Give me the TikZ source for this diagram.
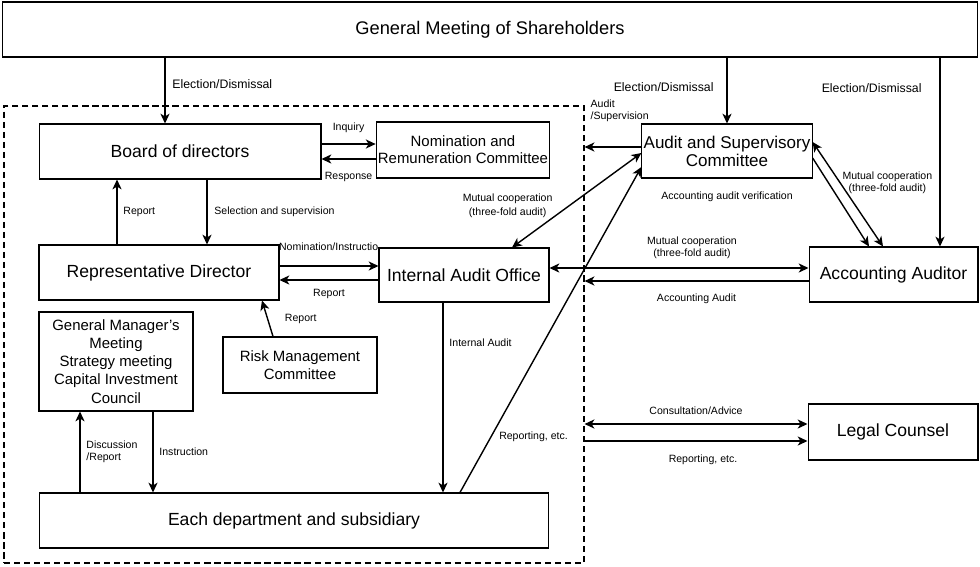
\documentclass[tikz,border=0pt]{standalone}
\usepackage{fontspec}
\setmainfont{Liberation Sans}
\usetikzlibrary{arrows,arrows.meta,positioning}
\tikzset{%
	box/.style       = {draw, rectangle, line width=0.6pt, fill=white, inner sep=1pt, align=center, font=\fontsize{10}{12}\selectfont},
	smallbox/.style  = {box, font=\fontsize{8.5}{10.3}\selectfont},
	lbl/.style       = {inner sep=1pt, align=center, font=\fontsize{6}{7}\selectfont}, % connector label
	biglbl/.style    = {lbl, font=\fontsize{7}{8}\selectfont},
	dashframe/.style = {draw, dash pattern=on 3.5pt off 2.2pt, line width=0.7pt},
	conn/.style      = {line width=0.8pt},
}

\begin{document}
\begin{tikzpicture}[x=0.02cm,y=-0.02cm,>={Stealth[length=5.6pt,width=5.2pt,inset=1.6pt]}]
	\useasboundingbox (0,0) rectangle (980,566);
	\node [dashframe, minimum width=11.6cm, minimum height=9.14cm] (frame) at (294,334.5) {};

	\node [box, minimum width=19.52cm, minimum height=1.1cm, font=\fontsize{10.4}{12}\selectfont] (gms) at (490,29.5) {General Meeting of Shareholders};
	\node [box, minimum width=5.64cm, minimum height=1.1cm] (bod) at (180,151.5) {Board of directors};
	\node [box, minimum width=3.4cm, minimum height=1.12cm, font=\fontsize{8.5}{9.7}\selectfont] (nrc) at (463,150) {Nomination and\\Remuneration Committee};
	\node [box, minimum width=4.8cm, minimum height=1.1cm] (rep) at (159,272.5) {Representative Director};
	\node [box, minimum width=3.4cm, minimum height=1.08cm] (iao) at (464,275) {Internal Audit Office};
	\node [lbl, anchor=east, inner sep=0pt] (nomlbl) at ([yshift=0.01cm]iao.north west) {Nomination/Instructio};
	\node [smallbox, minimum width=3.08cm, minimum height=1.98cm] (gmm) at (116,361.5) {General Manager's\\Meeting\\Strategy meeting\\Capital Investment\\Council};
	\node [smallbox, minimum width=3.08cm, minimum height=1.12cm] (rmc) at (300,365) {Risk Management\\Committee};
	\node [box, minimum width=10.2cm, minimum height=1.1cm] (dep) at (294,520.5) {Each department and subsidiary};
	\node [box, minimum width=3.4cm, minimum height=1.08cm, font=\fontsize{9.7}{10.3}\selectfont] (asc) at (727,151) {Audit and Supervisory\\Committee};
	\node [box, minimum width=3.38cm, minimum height=1.1cm] (aca) at (893.5,274.5) {Accounting Auditor};
	\node [box, minimum width=3.4cm, minimum height=1.12cm] (lgl) at (893,432) {Legal Counsel};
	\node [lbl, below=0.22cm of asc] (aav) {Accounting audit verification};
	\node [lbl, anchor=west, align=left] (audsup) at ([xshift=0.08cm,yshift=-0.11cm]frame.north east) {Audit\\/Supervision};

	% shareholders
	\draw[conn,->] ([xshift=-0.3cm]bod.north |- gms.south) -- node[biglbl,right,pos=0.4,xshift=0.1cm] {Election/Dismissal} ([xshift=-0.3cm]bod.north);
	\draw[conn,->] (asc.north |- gms.south) -- node[biglbl,left,pos=0.45,xshift=-0.22cm] {Election/Dismissal} (asc.north);
	\draw[conn,->] ([xshift=0.93cm]aca.north |- gms.south) -- node[biglbl,left,pos=0.16,xshift=-0.32cm] {Election/Dismissal} ([xshift=0.93cm]aca.north);

	% inside the company
	\draw[conn,->] ([yshift=0.15cm]bod.east) -- node[lbl,above=0.18cm] {Inquiry} ([yshift=0.15cm]bod.east -| nrc.west);
	\draw[conn,->] ([yshift=-0.18cm]nrc.west) -- node[lbl,below=0.22cm] {Response} ([yshift=-0.18cm]nrc.west -| bod.east);
	\draw[conn,->] ([xshift=-0.84cm]rep.north) -- node[lbl,right,xshift=0.08cm] {Report} ([xshift=-0.84cm]rep.north |- bod.south);
	\draw[conn,->] ([xshift=0.54cm]bod.south) -- node[lbl,right,xshift=0.1cm] {Selection and supervision} ([xshift=0.54cm]bod.south |- rep.north);
	\draw[conn,->] ([yshift=0.13cm]rep.east) -- ([yshift=0.13cm]rep.east -| iao.west);
	\draw[conn,->] ([yshift=-0.1cm]iao.west) -- node[lbl,below=0.14cm] {Report} ([yshift=-0.1cm]iao.west -| rep.east);
	\draw[conn,->] ([xshift=-0.54cm]rmc.north) -- node[lbl,right=0.3cm] {Report} ([xshift=2.06cm]rep.south);
	\draw[conn,->] ([xshift=-0.72cm]gmm.south |- dep.north) -- node[lbl,right,xshift=0.08cm,align=left] {Discussion\\/Report} ([xshift=-0.72cm]gmm.south);
	\draw[conn,->] ([xshift=0.74cm]gmm.south) -- node[lbl,right,xshift=0.08cm] {Instruction} ([xshift=0.74cm]gmm.south |- dep.north);
	\draw[conn,->] ([xshift=-0.42cm]iao.south) -- node[lbl,right,pos=0.21,xshift=0.08cm] {Internal Audit} ([xshift=-0.42cm]iao.south |- dep.north);

	% audit committee
	\draw[conn,->] ([xshift=3.32cm]dep.north) -- node[lbl,right,pos=0.17,xshift=0.12cm] {Reporting, etc.} ([yshift=-0.32cm]asc.west);
	\draw[conn,<->] ([xshift=0.96cm]iao.north) -- node[lbl,left=0.28cm,pos=0.44,font=\fontsize{6}{8}\selectfont] {Mutual cooperation\\(three-fold audit)} ([yshift=-0.04cm]asc.west);
	\draw[conn,->] ([yshift=0.08cm]asc.west) -- ([yshift=0.08cm]asc.west -| frame.east);
	\draw[conn,->] ([yshift=-0.14cm]asc.east) -- ([xshift=-0.49cm]aca.north);
	\draw[conn,<->] ([yshift=0.18cm]asc.east) -- node[lbl,right,pos=0.39] {Mutual cooperation\\(three-fold audit)} ([xshift=-0.21cm]aca.north);

	% accounting auditor and legal counsel
	\draw[conn,<->] ([yshift=0.14cm]iao.east) -- node[lbl,above=0.13cm,xshift=0.26cm] {Mutual cooperation\\(three-fold audit)} ([yshift=0.14cm]iao.east -| aca.west);
	\draw[conn,->] ([yshift=-0.13cm]aca.west) -- node[lbl,below=0.2cm] {Accounting Audit} ([yshift=-0.13cm]aca.west -| frame.east);
	\draw[conn,<->] ([yshift=0.16cm]lgl.west -| frame.east) -- node[lbl,above=0.14cm] {Consultation/Advice} ([yshift=0.16cm]lgl.west);
	\draw[conn,->] ([yshift=-0.18cm]lgl.west -| frame.east) -- node[lbl,below=0.22cm,xshift=0.14cm] {Reporting, etc.} ([yshift=-0.18cm]lgl.west);
\end{tikzpicture}
\end{document}
